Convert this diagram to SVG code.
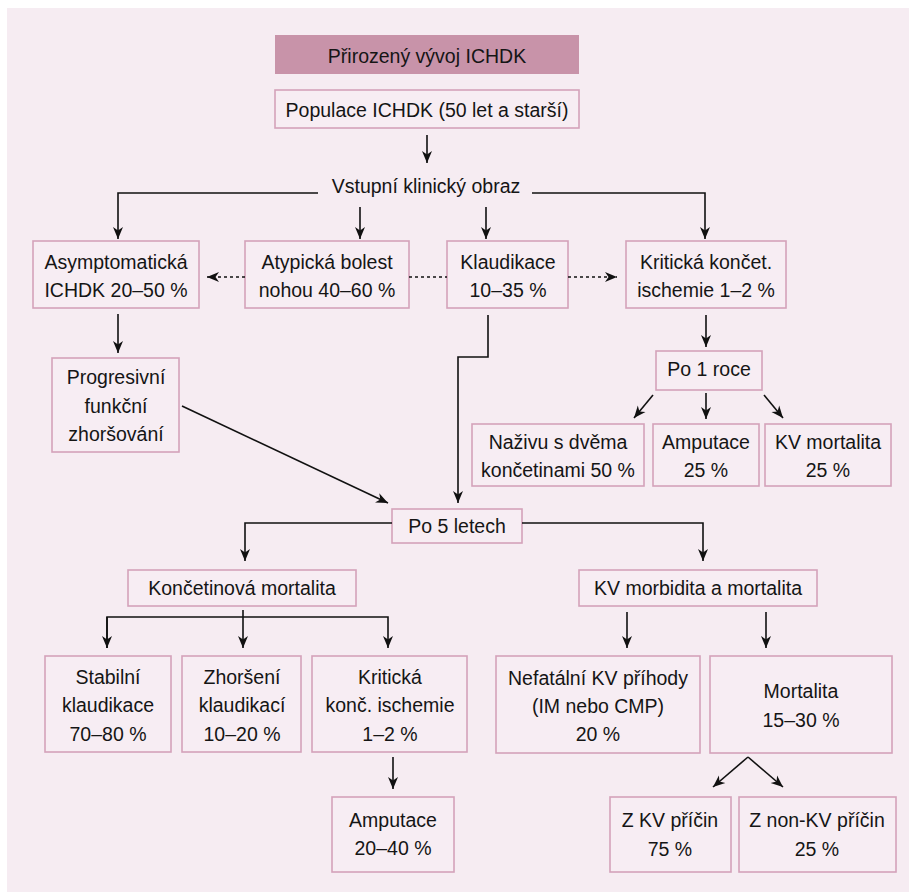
<svg xmlns="http://www.w3.org/2000/svg" width="909" height="892" viewBox="0 0 909 892">
<defs>
<style>
.bx{fill:#f7edf3;stroke:#d4a2ba;stroke-width:1.6}
.t{font-family:"Liberation Sans",Arial,sans-serif;font-size:19.5px;fill:#151515;text-anchor:middle}
.c{fill:none;stroke:#111;stroke-width:1.6}
.d{fill:none;stroke:#111;stroke-width:1.6;stroke-dasharray:3 3}
</style>
<marker id="ah" markerUnits="userSpaceOnUse" markerWidth="14" markerHeight="12" refX="12" refY="6" orient="auto">
<path d="M0,1 L12,6 L0,11 L3.5,6 Z" fill="#111"/>
</marker>
</defs>
<rect x="7" y="8" width="902" height="884" fill="#f6ecf2"/>

<g id="title"><rect x="275" y="35" width="304" height="39" fill="#c893a9"/><text class="t" x="427" y="63">Přirozený vývoj ICHDK</text></g>
<g id="populace"><rect class="bx" x="275" y="90" width="304" height="38"/><text class="t" x="427" y="117">Populace ICHDK (50 let a starší)</text></g>
<g id="vstupni"><text class="t" x="426" y="193">Vstupní klinický obraz</text></g>

<g id="asymptomaticka"><rect class="bx" x="33" y="241" width="166" height="67"/><text class="t" x="116" y="269">Asymptomatická</text><text class="t" x="116" y="297">ICHDK 20–50 %</text></g>
<g id="atypicka"><rect class="bx" x="245" y="241" width="164" height="67"/><text class="t" x="327" y="269">Atypická bolest</text><text class="t" x="327" y="297">nohou 40–60 %</text></g>
<g id="klaudikace"><rect class="bx" x="447" y="241" width="121" height="67"/><text class="t" x="508" y="269">Klaudikace</text><text class="t" x="508" y="297">10–35 %</text></g>
<g id="kriticka"><rect class="bx" x="626" y="241" width="160" height="67"/><text class="t" x="706" y="269">Kritická končet.</text><text class="t" x="706" y="297">ischemie 1–2 %</text></g>

<g id="progresivni"><rect class="bx" x="52" y="358" width="127" height="94"/><text class="t" x="116" y="384">Progresivní</text><text class="t" x="116" y="413">funkční</text><text class="t" x="116" y="441">zhoršování</text></g>

<g id="po1roce"><rect class="bx" x="656" y="351" width="106" height="39"/><text class="t" x="709" y="376">Po 1 roce</text></g>
<g id="nazivu"><rect class="bx" x="472" y="424" width="172" height="62"/><text class="t" x="558" y="449">Naživu s dvěma</text><text class="t" x="558" y="477">končetinami 50 %</text></g>
<g id="amputace1"><rect class="bx" x="653" y="424" width="106" height="62"/><text class="t" x="706" y="449">Amputace</text><text class="t" x="706" y="477">25 %</text></g>
<g id="kvmortalita"><rect class="bx" x="765" y="424" width="126" height="62"/><text class="t" x="828" y="449">KV mortalita</text><text class="t" x="828" y="477">25 %</text></g>

<g id="po5letech"><rect class="bx" x="392" y="509" width="130" height="34"/><text class="t" x="457" y="533">Po 5 letech</text></g>
<g id="koncetinova"><rect class="bx" x="128" y="570" width="228" height="36"/><text class="t" x="242" y="595">Končetinová mortalita</text></g>
<g id="kvmorbidita"><rect class="bx" x="579" y="570" width="238" height="36"/><text class="t" x="698" y="595">KV morbidita a mortalita</text></g>

<g id="stabilni"><rect class="bx" x="45" y="656" width="126" height="96"/><text class="t" x="108" y="684">Stabilní</text><text class="t" x="108" y="712">klaudikace</text><text class="t" x="108" y="741">70–80 %</text></g>
<g id="zhorseni"><rect class="bx" x="182" y="656" width="119" height="96"/><text class="t" x="242" y="684">Zhoršení</text><text class="t" x="242" y="712">klaudikací</text><text class="t" x="242" y="741">10–20 %</text></g>
<g id="kritickakonc"><rect class="bx" x="312" y="656" width="155" height="96"/><text class="t" x="390" y="684">Kritická</text><text class="t" x="390" y="712">konč. ischemie</text><text class="t" x="390" y="741">1–2 %</text></g>
<g id="nefatalni"><rect class="bx" x="496" y="656" width="204" height="97"/><text class="t" x="598" y="685">Nefatální KV příhody</text><text class="t" x="598" y="713">(IM nebo CMP)</text><text class="t" x="598" y="741">20 %</text></g>
<g id="mortalita"><rect class="bx" x="710" y="656" width="182" height="97"/><text class="t" x="801" y="698">Mortalita</text><text class="t" x="801" y="727">15–30 %</text></g>

<g id="amputace2"><rect class="bx" x="332" y="797" width="122" height="75"/><text class="t" x="393" y="827">Amputace</text><text class="t" x="393" y="855">20–40 %</text></g>
<g id="zkv"><rect class="bx" x="610" y="797" width="121" height="75"/><text class="t" x="670" y="827">Z KV příčin</text><text class="t" x="670" y="856">75 %</text></g>
<g id="znonkv"><rect class="bx" x="739" y="797" width="157" height="75"/><text class="t" x="817" y="827">Z non-KV příčin</text><text class="t" x="817" y="856">25 %</text></g>

<g id="connectors">
<path class="c" d="M427,135 V163" marker-end="url(#ah)"/>
<path class="c" d="M318,193 H118 V239" marker-end="url(#ah)"/>
<path class="c" d="M532,193 H705 V239" marker-end="url(#ah)"/>
<path class="c" d="M360,207 V239" marker-end="url(#ah)"/>
<path class="c" d="M486,207 V239" marker-end="url(#ah)"/>
<path class="d" d="M245,277 H207" marker-end="url(#ah)"/>
<path class="d" d="M409,277 H447"/>
<path class="d" d="M568,277 H617" marker-end="url(#ah)"/>
<path class="c" d="M118,314 V353" marker-end="url(#ah)"/>
<path class="c" d="M182,406 L388,503" marker-end="url(#ah)"/>
<path class="c" d="M488,315 V357 H458 V503" marker-end="url(#ah)"/>
<path class="c" d="M706,315 V347" marker-end="url(#ah)"/>
<path class="c" d="M653,395 L634,418" marker-end="url(#ah)"/>
<path class="c" d="M706,393 V419" marker-end="url(#ah)"/>
<path class="c" d="M764,395 L783,418" marker-end="url(#ah)"/>
<path class="c" d="M392,523 H245 V561" marker-end="url(#ah)"/>
<path class="c" d="M522,523 H703 V561" marker-end="url(#ah)"/>
<path class="c" d="M243,610 V648" marker-end="url(#ah)"/>
<path class="c" d="M107,648 V617 H388 V648" marker-end="url(#ah)"/>
<path class="c" d="M107,617 V648" marker-end="url(#ah)"/>
<path class="c" d="M627,612 V648" marker-end="url(#ah)"/>
<path class="c" d="M766,612 V648" marker-end="url(#ah)"/>
<path class="c" d="M393,757 V789" marker-end="url(#ah)"/>
<path class="c" d="M748,757 L713,787" marker-end="url(#ah)"/>
<path class="c" d="M748,757 L783,787" marker-end="url(#ah)"/>
</g>
</svg>
